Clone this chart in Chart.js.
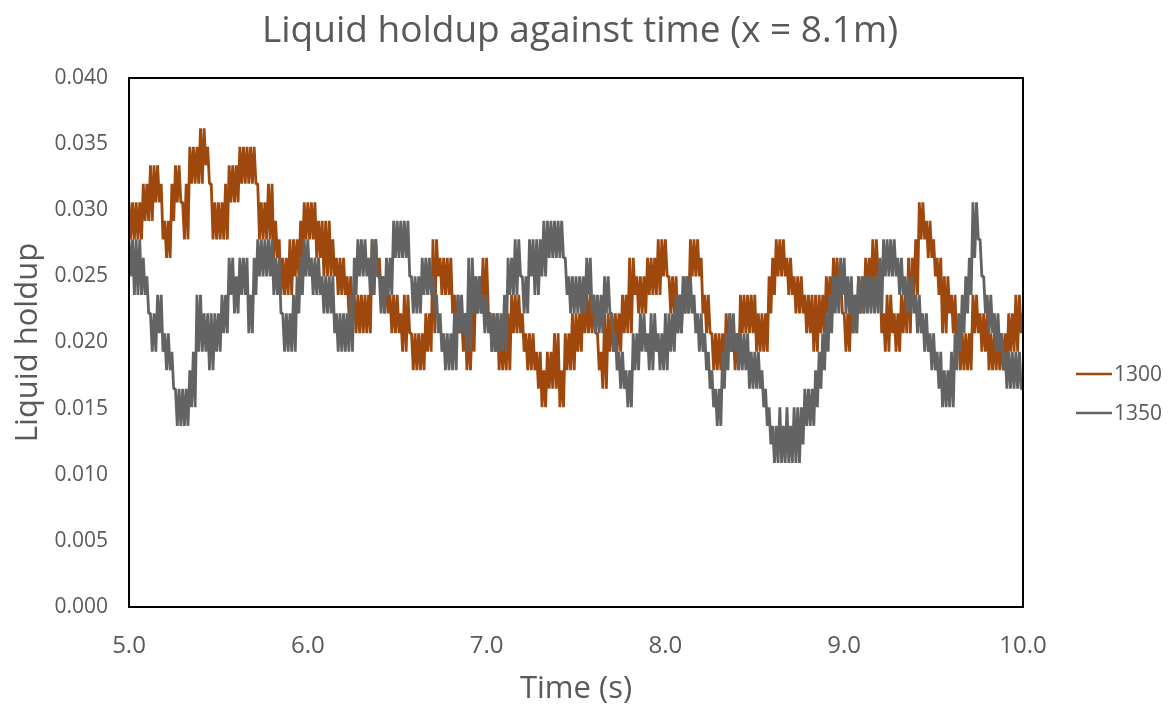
<!DOCTYPE html>
<html>
<head>
<meta charset="utf-8">
<script src="https://cdn.jsdelivr.net/npm/chart.js@4.4.1/dist/chart.umd.min.js"></script>
<style>
  html, body { margin: 0; padding: 0; background: #ffffff; }
  #wrap { width: 1176px; height: 708px; position: relative; }
</style>
</head>
<body>
<div id="wrap"><canvas id="c" width="1176" height="708"></canvas></div>
<script>
const chartTitle = 'Liquid holdup against time (x = 8.1m)';
const xAxisTitle = 'Time (s)';
const yAxisTitle = 'Liquid holdup';
const seriesNames = ['1300', '1350'];
const seriesColors = ['#9E480E', '#636363'];

const xTickValues = [5.0, 6.0, 7.0, 8.0, 9.0, 10.0];
const yTickValues = [0.000, 0.005, 0.010, 0.015, 0.020, 0.025, 0.030, 0.035, 0.040];

const timeS = [
  5.00,5.01,5.02,5.03,5.04,5.05,5.06,5.07,5.08,5.09,5.10,5.11,5.12,5.13,5.14,5.15,5.16,5.17,5.18,5.19,
  5.20,5.21,5.22,5.23,5.24,5.25,5.26,5.27,5.28,5.29,5.30,5.31,5.32,5.33,5.34,5.35,5.36,5.37,5.38,5.39,
  5.40,5.41,5.42,5.43,5.44,5.45,5.46,5.47,5.48,5.49,5.50,5.51,5.52,5.53,5.54,5.55,5.56,5.57,5.58,5.59,
  5.60,5.61,5.62,5.63,5.64,5.65,5.66,5.67,5.68,5.69,5.70,5.71,5.72,5.73,5.74,5.75,5.76,5.77,5.78,5.79,
  5.80,5.81,5.82,5.83,5.84,5.85,5.86,5.87,5.88,5.89,5.90,5.91,5.92,5.93,5.94,5.95,5.96,5.97,5.98,5.99,
  6.00,6.01,6.02,6.03,6.04,6.05,6.06,6.07,6.08,6.09,6.10,6.11,6.12,6.13,6.14,6.15,6.16,6.17,6.18,6.19,
  6.20,6.21,6.22,6.23,6.24,6.25,6.26,6.27,6.28,6.29,6.30,6.31,6.32,6.33,6.34,6.35,6.36,6.37,6.38,6.39,
  6.40,6.41,6.42,6.43,6.44,6.45,6.46,6.47,6.48,6.49,6.50,6.51,6.52,6.53,6.54,6.55,6.56,6.57,6.58,6.59,
  6.60,6.61,6.62,6.63,6.64,6.65,6.66,6.67,6.68,6.69,6.70,6.71,6.72,6.73,6.74,6.75,6.76,6.77,6.78,6.79,
  6.80,6.81,6.82,6.83,6.84,6.85,6.86,6.87,6.88,6.89,6.90,6.91,6.92,6.93,6.94,6.95,6.96,6.97,6.98,6.99,
  7.00,7.01,7.02,7.03,7.04,7.05,7.06,7.07,7.08,7.09,7.10,7.11,7.12,7.13,7.14,7.15,7.16,7.17,7.18,7.19,
  7.20,7.21,7.22,7.23,7.24,7.25,7.26,7.27,7.28,7.29,7.30,7.31,7.32,7.33,7.34,7.35,7.36,7.37,7.38,7.39,
  7.40,7.41,7.42,7.43,7.44,7.45,7.46,7.47,7.48,7.49,7.50,7.51,7.52,7.53,7.54,7.55,7.56,7.57,7.58,7.59,
  7.60,7.61,7.62,7.63,7.64,7.65,7.66,7.67,7.68,7.69,7.70,7.71,7.72,7.73,7.74,7.75,7.76,7.77,7.78,7.79,
  7.80,7.81,7.82,7.83,7.84,7.85,7.86,7.87,7.88,7.89,7.90,7.91,7.92,7.93,7.94,7.95,7.96,7.97,7.98,7.99,
  8.00,8.01,8.02,8.03,8.04,8.05,8.06,8.07,8.08,8.09,8.10,8.11,8.12,8.13,8.14,8.15,8.16,8.17,8.18,8.19,
  8.20,8.21,8.22,8.23,8.24,8.25,8.26,8.27,8.28,8.29,8.30,8.31,8.32,8.33,8.34,8.35,8.36,8.37,8.38,8.39,
  8.40,8.41,8.42,8.43,8.44,8.45,8.46,8.47,8.48,8.49,8.50,8.51,8.52,8.53,8.54,8.55,8.56,8.57,8.58,8.59,
  8.60,8.61,8.62,8.63,8.64,8.65,8.66,8.67,8.68,8.69,8.70,8.71,8.72,8.73,8.74,8.75,8.76,8.77,8.78,8.79,
  8.80,8.81,8.82,8.83,8.84,8.85,8.86,8.87,8.88,8.89,8.90,8.91,8.92,8.93,8.94,8.95,8.96,8.97,8.98,8.99,
  9.00,9.01,9.02,9.03,9.04,9.05,9.06,9.07,9.08,9.09,9.10,9.11,9.12,9.13,9.14,9.15,9.16,9.17,9.18,9.19,
  9.20,9.21,9.22,9.23,9.24,9.25,9.26,9.27,9.28,9.29,9.30,9.31,9.32,9.33,9.34,9.35,9.36,9.37,9.38,9.39,
  9.40,9.41,9.42,9.43,9.44,9.45,9.46,9.47,9.48,9.49,9.50,9.51,9.52,9.53,9.54,9.55,9.56,9.57,9.58,9.59,
  9.60,9.61,9.62,9.63,9.64,9.65,9.66,9.67,9.68,9.69,9.70,9.71,9.72,9.73,9.74,9.75,9.76,9.77,9.78,9.79,
  9.80,9.81,9.82,9.83,9.84,9.85,9.86,9.87,9.88,9.89,9.90,9.91,9.92,9.93,9.94,9.95,9.96,9.97,9.98,9.99,
  10.00
];

const holdup1300 = [
  0.0306,0.0278, 0.0306,0.0278, 0.0306,0.0278, 0.0306,0.0278, 0.0320,0.0292,
  0.0320,0.0292, 0.0334,0.0292, 0.0334,0.0306, 0.0334,0.0306, 0.0320,0.0278,
  0.0292,0.0264, 0.0292,0.0264, 0.0320,0.0292, 0.0334,0.0306, 0.0334,0.0306,
  0.0306,0.0278, 0.0320,0.0278, 0.0348,0.0320, 0.0348,0.0320, 0.0348,0.0320,
  0.0362,0.0320, 0.0362,0.0334, 0.0348,0.0320, 0.0320,0.0278, 0.0306,0.0278,
  0.0306,0.0278, 0.0306,0.0278, 0.0320,0.0278, 0.0334,0.0306, 0.0334,0.0306,
  0.0334,0.0306, 0.0348,0.0320, 0.0348,0.0320, 0.0348,0.0320, 0.0348,0.0320,
  0.0348,0.0320, 0.0320,0.0278, 0.0306,0.0278, 0.0306,0.0278, 0.0320,0.0278,
  0.0320,0.0264, 0.0292,0.0264, 0.0278,0.0236, 0.0264,0.0236, 0.0264,0.0236,
  0.0278,0.0236, 0.0278,0.0250, 0.0278,0.0250, 0.0292,0.0264, 0.0306,0.0278,
  0.0306,0.0278, 0.0306,0.0278, 0.0306,0.0264, 0.0292,0.0264, 0.0292,0.0250,
  0.0292,0.0250, 0.0292,0.0250, 0.0278,0.0250, 0.0264,0.0236, 0.0264,0.0236,
  0.0264,0.0236, 0.0250,0.0222, 0.0250,0.0222, 0.0236,0.0207, 0.0236,0.0207,
  0.0236,0.0207, 0.0236,0.0207, 0.0236,0.0207, 0.0278,0.0236, 0.0278,0.0250,
  0.0264,0.0236, 0.0250,0.0222, 0.0250,0.0222, 0.0236,0.0207, 0.0236,0.0207,
  0.0236,0.0207, 0.0222,0.0193, 0.0236,0.0193, 0.0236,0.0207, 0.0207,0.0179,
  0.0207,0.0179, 0.0207,0.0179, 0.0207,0.0179, 0.0222,0.0193, 0.0222,0.0193,
  0.0278,0.0207, 0.0278,0.0250, 0.0264,0.0236, 0.0264,0.0236, 0.0264,0.0236,
  0.0264,0.0222, 0.0236,0.0207, 0.0236,0.0207, 0.0222,0.0193, 0.0222,0.0179,
  0.0207,0.0179, 0.0222,0.0193, 0.0250,0.0222, 0.0250,0.0222, 0.0264,0.0222,
  0.0264,0.0222, 0.0222,0.0193, 0.0222,0.0193, 0.0222,0.0179, 0.0207,0.0179,
  0.0207,0.0179, 0.0222,0.0179, 0.0236,0.0207, 0.0236,0.0207, 0.0236,0.0207,
  0.0222,0.0193, 0.0207,0.0179, 0.0207,0.0179, 0.0207,0.0179, 0.0193,0.0165,
  0.0193,0.0151, 0.0179,0.0151, 0.0193,0.0165, 0.0193,0.0165, 0.0207,0.0165,
  0.0207,0.0151, 0.0179,0.0151, 0.0207,0.0179, 0.0207,0.0179, 0.0222,0.0179,
  0.0222,0.0193, 0.0222,0.0193, 0.0236,0.0207, 0.0236,0.0207, 0.0236,0.0207,
  0.0236,0.0207, 0.0207,0.0179, 0.0193,0.0165, 0.0222,0.0165, 0.0222,0.0193,
  0.0222,0.0193, 0.0222,0.0193, 0.0222,0.0193, 0.0236,0.0207, 0.0236,0.0207,
  0.0264,0.0207, 0.0264,0.0236, 0.0250,0.0222, 0.0250,0.0222, 0.0250,0.0222,
  0.0264,0.0236, 0.0264,0.0236, 0.0264,0.0236, 0.0278,0.0236, 0.0278,0.0250,
  0.0278,0.0250, 0.0250,0.0222, 0.0250,0.0222, 0.0250,0.0207, 0.0236,0.0207,
  0.0250,0.0222, 0.0250,0.0222, 0.0278,0.0250, 0.0278,0.0250, 0.0278,0.0250,
  0.0264,0.0222, 0.0236,0.0207, 0.0236,0.0207, 0.0207,0.0179, 0.0207,0.0179,
  0.0207,0.0179, 0.0207,0.0179, 0.0222,0.0193, 0.0222,0.0193, 0.0207,0.0179,
  0.0207,0.0179, 0.0236,0.0207, 0.0236,0.0207, 0.0236,0.0207, 0.0236,0.0207,
  0.0236,0.0193, 0.0222,0.0193, 0.0222,0.0193, 0.0222,0.0193, 0.0250,0.0222,
  0.0264,0.0236, 0.0278,0.0250, 0.0278,0.0250, 0.0278,0.0250, 0.0264,0.0236,
  0.0264,0.0236, 0.0250,0.0222, 0.0250,0.0222, 0.0250,0.0222, 0.0236,0.0207,
  0.0236,0.0207, 0.0236,0.0193, 0.0236,0.0193, 0.0236,0.0207, 0.0236,0.0207,
  0.0250,0.0222, 0.0250,0.0222, 0.0264,0.0236, 0.0264,0.0236, 0.0250,0.0222,
  0.0222,0.0193, 0.0222,0.0193, 0.0236,0.0207, 0.0236,0.0207, 0.0250,0.0222,
  0.0250,0.0222, 0.0264,0.0236, 0.0264,0.0236, 0.0278,0.0236, 0.0278,0.0250,
  0.0250,0.0207, 0.0222,0.0193, 0.0236,0.0193, 0.0236,0.0207, 0.0222,0.0193,
  0.0222,0.0193, 0.0236,0.0207, 0.0236,0.0207, 0.0264,0.0207, 0.0264,0.0236,
  0.0278,0.0236, 0.0306,0.0278, 0.0306,0.0278, 0.0292,0.0264, 0.0292,0.0264,
  0.0278,0.0250, 0.0264,0.0236, 0.0264,0.0207, 0.0250,0.0207, 0.0250,0.0222,
  0.0236,0.0207, 0.0236,0.0193, 0.0207,0.0179, 0.0207,0.0179, 0.0207,0.0179,
  0.0207,0.0179, 0.0236,0.0207, 0.0236,0.0207, 0.0222,0.0193, 0.0222,0.0193,
  0.0222,0.0179, 0.0207,0.0179, 0.0207,0.0179, 0.0207,0.0179, 0.0207,0.0179,
  0.0207,0.0179, 0.0222,0.0193, 0.0222,0.0193, 0.0236,0.0193, 0.0236,0.0207,
  0.0222
];

const holdup1350 = [
  0.0278,0.0250, 0.0278,0.0236, 0.0278,0.0236, 0.0278,0.0236, 0.0264,0.0236,
  0.0250,0.0222, 0.0222,0.0193, 0.0222,0.0193, 0.0236,0.0207, 0.0236,0.0193,
  0.0207,0.0179, 0.0207,0.0179, 0.0193,0.0165, 0.0165,0.0137, 0.0165,0.0137,
  0.0165,0.0137, 0.0165,0.0137, 0.0179,0.0151, 0.0193,0.0151, 0.0236,0.0193,
  0.0236,0.0193, 0.0222,0.0193, 0.0222,0.0179, 0.0222,0.0179, 0.0222,0.0193,
  0.0222,0.0193, 0.0236,0.0207, 0.0236,0.0207, 0.0264,0.0236, 0.0264,0.0222,
  0.0250,0.0222, 0.0264,0.0236, 0.0264,0.0236, 0.0264,0.0207, 0.0236,0.0207,
  0.0264,0.0236, 0.0278,0.0250, 0.0278,0.0250, 0.0278,0.0250, 0.0278,0.0250,
  0.0278,0.0236, 0.0264,0.0236, 0.0264,0.0222, 0.0222,0.0193, 0.0222,0.0193,
  0.0222,0.0193, 0.0236,0.0193, 0.0250,0.0222, 0.0264,0.0236, 0.0278,0.0250,
  0.0278,0.0250, 0.0264,0.0236, 0.0264,0.0236, 0.0264,0.0236, 0.0250,0.0222,
  0.0250,0.0222, 0.0250,0.0222, 0.0250,0.0207, 0.0222,0.0193, 0.0222,0.0193,
  0.0222,0.0193, 0.0222,0.0193, 0.0236,0.0193, 0.0264,0.0236, 0.0278,0.0250,
  0.0278,0.0250, 0.0278,0.0250, 0.0264,0.0236, 0.0278,0.0236, 0.0278,0.0250,
  0.0250,0.0222, 0.0250,0.0222, 0.0264,0.0236, 0.0264,0.0236, 0.0292,0.0264,
  0.0292,0.0264, 0.0292,0.0264, 0.0292,0.0264, 0.0292,0.0250, 0.0250,0.0222,
  0.0250,0.0222, 0.0250,0.0222, 0.0264,0.0236, 0.0264,0.0236, 0.0264,0.0236,
  0.0250,0.0222, 0.0236,0.0207, 0.0222,0.0193, 0.0207,0.0179, 0.0207,0.0179,
  0.0207,0.0179, 0.0222,0.0179, 0.0236,0.0207, 0.0236,0.0207, 0.0222,0.0193,
  0.0264,0.0193, 0.0264,0.0222, 0.0250,0.0222, 0.0250,0.0222, 0.0236,0.0207,
  0.0236,0.0207, 0.0222,0.0193, 0.0222,0.0193, 0.0222,0.0193, 0.0222,0.0193,
  0.0236,0.0193, 0.0264,0.0236, 0.0264,0.0236, 0.0278,0.0236, 0.0278,0.0250,
  0.0250,0.0222, 0.0250,0.0222, 0.0278,0.0250, 0.0278,0.0236, 0.0278,0.0236,
  0.0278,0.0250, 0.0292,0.0250, 0.0292,0.0264, 0.0292,0.0264, 0.0292,0.0264,
  0.0292,0.0264, 0.0292,0.0264, 0.0264,0.0236, 0.0250,0.0222, 0.0250,0.0222,
  0.0250,0.0222, 0.0250,0.0222, 0.0250,0.0222, 0.0264,0.0236, 0.0264,0.0222,
  0.0236,0.0207, 0.0236,0.0207, 0.0236,0.0207, 0.0250,0.0222, 0.0250,0.0222,
  0.0222,0.0193, 0.0207,0.0179, 0.0193,0.0165, 0.0193,0.0165, 0.0179,0.0151,
  0.0179,0.0151, 0.0207,0.0179, 0.0207,0.0179, 0.0222,0.0193, 0.0222,0.0193,
  0.0207,0.0179, 0.0222,0.0179, 0.0222,0.0193, 0.0207,0.0179, 0.0207,0.0179,
  0.0222,0.0179, 0.0222,0.0193, 0.0222,0.0193, 0.0236,0.0207, 0.0236,0.0207,
  0.0250,0.0222, 0.0250,0.0222, 0.0250,0.0222, 0.0236,0.0207, 0.0222,0.0193,
  0.0222,0.0193, 0.0207,0.0179, 0.0193,0.0165, 0.0179,0.0151, 0.0165,0.0137,
  0.0165,0.0137, 0.0193,0.0165, 0.0207,0.0179, 0.0222,0.0193, 0.0222,0.0193,
  0.0207,0.0179, 0.0207,0.0179, 0.0207,0.0179, 0.0207,0.0165, 0.0193,0.0165,
  0.0193,0.0165, 0.0193,0.0165, 0.0179,0.0151, 0.0165,0.0137, 0.0151,0.0123,
  0.0137,0.0109, 0.0137,0.0109, 0.0151,0.0109, 0.0137,0.0109, 0.0151,0.0109,
  0.0137,0.0109, 0.0151,0.0109, 0.0151,0.0109, 0.0151,0.0123, 0.0165,0.0137,
  0.0165,0.0137, 0.0165,0.0137, 0.0179,0.0151, 0.0193,0.0165, 0.0207,0.0179,
  0.0222,0.0193, 0.0236,0.0207, 0.0250,0.0222, 0.0250,0.0222, 0.0264,0.0236,
  0.0264,0.0222, 0.0250,0.0222, 0.0250,0.0207, 0.0236,0.0207, 0.0250,0.0222,
  0.0250,0.0222, 0.0250,0.0222, 0.0250,0.0222, 0.0250,0.0222, 0.0250,0.0222,
  0.0264,0.0222, 0.0278,0.0250, 0.0278,0.0250, 0.0278,0.0250, 0.0278,0.0250,
  0.0264,0.0236, 0.0264,0.0236, 0.0250,0.0222, 0.0250,0.0222, 0.0250,0.0222,
  0.0236,0.0207, 0.0236,0.0207, 0.0222,0.0193, 0.0222,0.0193, 0.0207,0.0179,
  0.0207,0.0179, 0.0193,0.0165, 0.0193,0.0151, 0.0179,0.0151, 0.0179,0.0151,
  0.0193,0.0151, 0.0207,0.0179, 0.0222,0.0193, 0.0236,0.0207, 0.0250,0.0222,
  0.0264,0.0236, 0.0306,0.0264, 0.0306,0.0278, 0.0278,0.0250, 0.0250,0.0222,
  0.0236,0.0207, 0.0236,0.0207, 0.0222,0.0193, 0.0222,0.0193, 0.0207,0.0179,
  0.0193,0.0165, 0.0193,0.0165, 0.0193,0.0165, 0.0193,0.0165, 0.0193,0.0165,
  0.0165
];

const FONT = "'Open Sans', 'Liberation Sans', sans-serif";
const TEXT_COLOR = '#595959';

function toPoints(xs, ys) {
  const n = Math.min(xs.length, ys.length);
  const pts = [];
  for (let i = 0; i < n; i++) pts.push({ x: xs[i], y: ys[i] });
  return pts;
}

const framePlugin = {
  id: 'frame',
  afterDatasetsDraw(chart) {
    const { ctx, chartArea: a } = chart;
    ctx.save();
    ctx.strokeStyle = '#000000';
    ctx.lineWidth = 2;
    ctx.strokeRect(a.left, a.top, a.right - a.left, a.bottom - a.top);
    ctx.restore();
  }
};

const titlePlugin = {
  id: 'centeredTitle',
  afterDraw(chart) {
    const { ctx } = chart;
    ctx.save();
    ctx.font = "37px " + FONT;
    ctx.fillStyle = TEXT_COLOR;
    ctx.textAlign = 'center';
    ctx.textBaseline = 'middle';
    ctx.fillText(chartTitle, 580, 31);
    ctx.restore();
  }
};

const sideLegendPlugin = {
  id: 'sideLegend',
  afterDraw(chart) {
    const { ctx } = chart;
    const rows = [374, 413];
    ctx.save();
    ctx.font = "21px " + FONT;
    ctx.textBaseline = 'middle';
    ctx.textAlign = 'left';
    seriesNames.forEach((name, i) => {
      const y = rows[i];
      ctx.strokeStyle = seriesColors[i];
      ctx.lineWidth = 2.5;
      ctx.beginPath();
      ctx.moveTo(1076, y);
      ctx.lineTo(1112, y);
      ctx.stroke();
      ctx.fillStyle = TEXT_COLOR;
      ctx.fillText(name, 1114, y + 1);
    });
    ctx.restore();
  }
};

new Chart(document.getElementById('c'), {
  type: 'line',
  data: {
    datasets: [
      {
        label: seriesNames[0],
        data: toPoints(timeS, holdup1300),
        borderColor: seriesColors[0],
        backgroundColor: seriesColors[0],
        borderWidth: 2.8,
        borderJoinStyle: 'bevel',
        pointRadius: 0,
        tension: 0,
        fill: false,
        order: 1
      },
      {
        label: seriesNames[1],
        data: toPoints(timeS, holdup1350),
        borderColor: seriesColors[1],
        backgroundColor: seriesColors[1],
        borderWidth: 2.8,
        borderJoinStyle: 'bevel',
        pointRadius: 0,
        tension: 0,
        fill: false,
        order: 0
      }
    ]
  },
  options: {
    responsive: false,
    animation: false,
    devicePixelRatio: 1,
    layout: { padding: { left: 0, right: 153, top: 78, bottom: 0 } },
    plugins: {
      legend: { display: false },
      tooltip: { enabled: false },
      title: { display: false }
    },
    scales: {
      x: {
        type: 'linear',
        min: 5, max: 10,
        afterBuildTicks(scale) { scale.ticks = xTickValues.map(v => ({ value: v })); },
        afterFit(scale) { scale.height = 101; },
        grid: { display: false, drawTicks: false },
        border: { display: false },
        ticks: {
          color: TEXT_COLOR,
          font: { family: FONT, size: 24 },
          padding: 25,
          maxRotation: 0,
          callback: v => Number(v).toFixed(1)
        },
        title: {
          display: true,
          text: xAxisTitle,
          color: TEXT_COLOR,
          font: { family: FONT, size: 31 },
          padding: { top: 0, bottom: 0 }
        }
      },
      y: {
        type: 'linear',
        min: 0, max: 0.04,
        afterBuildTicks(scale) { scale.ticks = yTickValues.map(v => ({ value: v })); },
        afterFit(scale) { scale.width = 129; },
        grid: { display: false, drawTicks: false },
        border: { display: false },
        ticks: {
          color: TEXT_COLOR,
          font: { family: FONT, size: 21 },
          padding: 21,
          callback: v => Number(v).toFixed(3)
        },
        title: {
          display: true,
          text: yAxisTitle,
          color: TEXT_COLOR,
          font: { family: FONT, size: 31 },
          padding: { top: 10, bottom: 0 }
        }
      }
    }
  },
  plugins: [framePlugin, titlePlugin, sideLegendPlugin]
});
</script>
</body>
</html>
